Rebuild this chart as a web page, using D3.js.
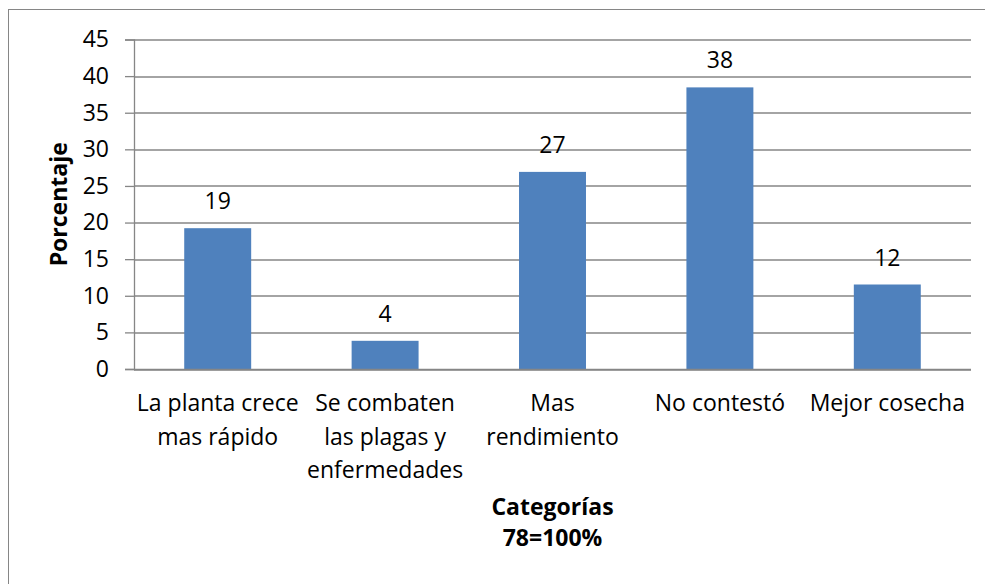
<!DOCTYPE html>
<html>
<head>
<meta charset="utf-8">
<script src="https://cdn.jsdelivr.net/npm/d3@7"></script>
<style>
  body { margin: 0; background: #fff; }
  text { font-family: "Open Sans", "Noto Sans", sans-serif; fill: #000; }
</style>
</head>
<body>
<div id="chart"></div>
<script>
// Data (15, 3, 21, 30, 9 out of 78 respondents)
const categories = [
  ['La planta crece', 'mas rápido'],
  ['Se combaten', 'las plagas y', 'enfermedades'],
  ['Mas', 'rendimiento'],
  ['No contestó'],
  ['Mejor cosecha']
];
const values = [19.23, 3.85, 26.92, 38.46, 11.54];
const valueLabels = ['19', '4', '27', '38', '12'];
const yTicks = [0, 5, 10, 15, 20, 25, 30, 35, 40, 45];
const yTitle = 'Porcentaje';
const xTitle = ['Categorías', '78=100%'];

const fontFamily = '"Open Sans", "Noto Sans", sans-serif';
const fontSize = 23;

const width = 985, height = 584;
const margin = {top: 39.5, right: 14, bottom: 215, left: 134};
const chartWidth = width - margin.left - margin.right;
const chartHeight = height - margin.top - margin.bottom;

const svg = d3.select('#chart').append('svg')
  .attr('width', width)
  .attr('height', height);

// outer frame (runs off the right and bottom edges)
svg.append('rect')
  .attr('x', 8.5).attr('y', 9.5)
  .attr('width', 990).attr('height', 590)
  .attr('fill', '#fff')
  .attr('stroke', '#868686')
  .attr('stroke-width', 1);

const chart = svg.append('g')
  .attr('transform', `translate(${margin.left}, ${margin.top})`);

const xScale = d3.scaleBand()
  .domain(d3.range(categories.length))
  .range([0, chartWidth])
  .paddingInner(0.6)
  .paddingOuter(0.3);

const yScale = d3.scaleLinear()
  .domain([0, 45])
  .range([chartHeight, 0]);

// gridlines
chart.selectAll('.grid').data(yTicks)
  .enter().append('line')
  .attr('class', 'grid')
  .attr('x1', 0).attr('x2', chartWidth)
  .attr('y1', d => Math.round(yScale(d)) + 0.5)
  .attr('y2', d => Math.round(yScale(d)) + 0.5)
  .attr('stroke', '#868686')
  .attr('stroke-width', 1.3);

// y axis
const yAxis = d3.axisLeft(yScale)
  .tickValues(yTicks)
  .tickSize(9)
  .tickPadding(16);

const yAxisGroup = chart.append('g').call(yAxis);
yAxisGroup.select('.domain').attr('stroke', '#868686').attr('stroke-width', 1.3);
yAxisGroup.selectAll('.tick line').attr('stroke', '#868686').attr('stroke-width', 1.3);
yAxisGroup.selectAll('.tick text')
  .attr('font-size', fontSize)
  .attr('font-family', fontFamily);

// bars
chart.selectAll('.bar').data(values)
  .enter().append('rect')
  .attr('class', 'bar')
  .attr('x', (d, i) => xScale(i))
  .attr('y', d => yScale(d))
  .attr('width', xScale.bandwidth())
  .attr('height', d => chartHeight - yScale(d))
  .attr('fill', '#4f81bd');

// x axis line on top of bars
chart.append('line')
  .attr('x1', 0).attr('x2', chartWidth)
  .attr('y1', chartHeight + 0.5).attr('y2', chartHeight + 0.5)
  .attr('stroke', '#868686')
  .attr('stroke-width', 1.3);

// value labels
chart.selectAll('.value-label').data(values)
  .enter().append('text')
  .attr('class', 'value-label')
  .attr('x', (d, i) => xScale(i) + xScale.bandwidth() / 2)
  .attr('y', d => yScale(d) - 27)
  .attr('dy', '0.35em')
  .attr('text-anchor', 'middle')
  .attr('font-size', fontSize)
  .text((d, i) => valueLabels[i]);

// category labels
const catGroups = chart.selectAll('.cat').data(categories)
  .enter().append('text')
  .attr('class', 'cat')
  .attr('text-anchor', 'middle')
  .attr('font-size', fontSize)
  .attr('transform', (d, i) => `translate(${xScale(i) + xScale.bandwidth() / 2}, ${chartHeight + 34})`);

catGroups.selectAll('tspan').data(d => d)
  .enter().append('tspan')
  .attr('x', 0)
  .attr('y', (d, j) => j * 33.5)
  .attr('dy', '0.35em')
  .text(d => d);

// axis titles
chart.append('text')
  .attr('text-anchor', 'middle')
  .attr('font-size', fontSize)
  .attr('font-weight', 'bold')
  .attr('transform', `translate(-75, ${chartHeight / 2}) rotate(-90)`)
  .attr('dy', '0.35em')
  .text(yTitle);

chart.append('text')
  .attr('text-anchor', 'middle')
  .attr('font-size', fontSize)
  .attr('font-weight', 'bold')
  .attr('transform', `translate(${chartWidth / 2}, ${chartHeight + 138})`)
  .selectAll('tspan').data(xTitle)
  .enter().append('tspan')
  .attr('x', 0)
  .attr('y', (d, j) => j * 31)
  .attr('dy', '0.35em')
  .text(d => d);
</script>
</body>
</html>
